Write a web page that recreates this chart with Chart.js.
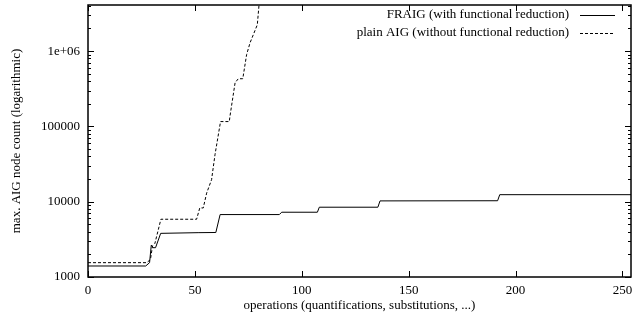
<!DOCTYPE html>
<html>
<head>
<meta charset="utf-8">
<script src="https://cdn.jsdelivr.net/npm/chart.js@4"></script>
<style>
  html, body { margin: 0; padding: 0; background: #fff; }
  #chart { display: block; }
</style>
</head>
<body>
<canvas id="chart" width="632" height="325"></canvas>
<script>
const seriesLabels = ["FRAIG (with functional reduction)", "plain AIG (without functional reduction)"];

const fraigX = [0, 27, 28.8, 29.6, 30.4, 31.6, 34, 51.5, 59.8, 61.8, 89.5, 90.6, 107.3, 108.2, 135.6, 136.6, 191.6, 192.6, 254];
const fraigY = [1400, 1400, 1550, 2650, 2450, 2450, 3800, 3880, 3900, 6750, 6750, 7250, 7250, 8450, 8450, 10250, 10300, 12400, 12400];

const plainX = [0, 27.4, 29.2, 30.2, 31.3, 34.1, 50.8, 52.3, 53.9, 55.5, 57.8, 59.4, 62, 66.1, 66.4, 68.8, 70.3, 72.4, 74.2, 75.8, 79.2, 80.5];
const plainY = [1550, 1550, 1700, 2600, 2800, 5850, 5850, 8300, 8250, 13000, 19600, 42000, 116000, 116000, 136000, 380000, 430000, 430000, 900000, 1290000, 2240000, 6000000];

const xTicks = [0, 50, 100, 150, 200, 250];
const yTicks = [1000, 10000, 100000, 1000000];
const yTickLabels = ["1000", "10000", "100000", "1e+06"];

const FONT = "Liberation Serif";

const points = (xs, ys) => xs.map((x, i) => ({ x, y: ys[i] }));
const isMajor = v => yTicks.some(t => Math.abs(t - v) / t < 1e-6);

// gnuplot look: boxed frame, ticks pointing inward on every side, key at top right
const framePlugin = {
  id: "frame",
  afterDraw(chart) {
    const { ctx, chartArea: a, scales } = chart;
    const x = scales.x, y = scales.y;
    ctx.save();
    ctx.strokeStyle = "#000";
    ctx.lineWidth = 1;
    ctx.beginPath();
    x.ticks.forEach(t => {
      const px = Math.round(x.getPixelForValue(t.value)) + 0.5;
      ctx.moveTo(px, a.bottom); ctx.lineTo(px, a.bottom - 6);
      ctx.moveTo(px, a.top); ctx.lineTo(px, a.top + 6);
    });
    y.ticks.forEach(t => {
      const len = isMajor(t.value) ? 6 : 3;
      const py = Math.round(y.getPixelForValue(t.value)) + 0.5;
      ctx.moveTo(a.left, py); ctx.lineTo(a.left + len, py);
      ctx.moveTo(a.right, py); ctx.lineTo(a.right - len, py);
    });
    ctx.stroke();

    ctx.lineWidth = 1.5;
    ctx.strokeRect(a.left, a.top, a.right - a.left, a.bottom - a.top);

    // key
    ctx.font = "13px " + FONT;
    ctx.fillStyle = "#000";
    ctx.textAlign = "right";
    ctx.textBaseline = "middle";
    chart.data.datasets.forEach((ds, i) => {
      const ly = a.top + 10 + i * 17.5;
      ctx.fillText(ds.label, a.right - 62, ly);
      ctx.lineWidth = 1;
      ctx.setLineDash(ds.borderDash || []);
      ctx.beginPath();
      ctx.moveTo(a.right - 51, Math.round(ly) + 0.5);
      ctx.lineTo(a.right - 16, Math.round(ly) + 0.5);
      ctx.stroke();
    });
    ctx.restore();
  }
};

new Chart(document.getElementById("chart"), {
  type: "line",
  data: {
    datasets: [
      {
        label: seriesLabels[0],
        data: points(fraigX, fraigY),
        borderColor: "#000",
        borderWidth: 1,
        pointRadius: 0,
        tension: 0,
      },
      {
        label: seriesLabels[1],
        data: points(plainX, plainY),
        borderColor: "#000",
        borderWidth: 1,
        borderDash: [3, 2],
        pointRadius: 0,
        tension: 0,
      },
    ],
  },
  options: {
    responsive: false,
    animation: false,
    devicePixelRatio: 1,
    layout: { padding: { top: 5, right: 1, left: 0, bottom: 0 } },
    plugins: {
      legend: { display: false },
      tooltip: { enabled: false },
    },
    scales: {
      x: {
        type: "linear",
        min: 0,
        max: 254,
        grid: { display: false, drawTicks: false },
        border: { display: false },
        afterBuildTicks: s => { s.ticks = xTicks.map(v => ({ value: v })); },
        afterFit: s => { s.height = 48; s.paddingLeft = 0; s.paddingRight = 0; },
        ticks: { color: "#000", font: { family: FONT, size: 13 }, padding: 6, maxRotation: 0, autoSkip: false },
        title: {
          display: true,
          text: "operations (quantifications, substitutions, ...)",
          color: "#000",
          font: { family: FONT, size: 13 },
          padding: { top: 0, bottom: 12 },
        },
      },
      y: {
        type: "logarithmic",
        min: 1000,
        max: 4100000,
        grid: { display: false, drawTicks: false },
        border: { display: false },
        afterBuildTicks: s => {
          s.ticks = s.ticks.filter(t => {
            const m = t.value / Math.pow(10, Math.floor(Math.log10(t.value) + 1e-9));
            return Math.abs(m - Math.round(m)) < 1e-6;
          });
        },
        afterFit: s => { s.width = 88; s.paddingTop = 0; s.paddingBottom = 0; },
        ticks: {
          color: "#000",
          font: { family: FONT, size: 13 },
          padding: 8,
          autoSkip: false,
          callback: v => {
            const i = yTicks.findIndex(t => Math.abs(t - v) / t < 1e-6);
            return i >= 0 ? yTickLabels[i] : "";
          },
        },
        title: {
          display: true,
          text: "max. AIG node count (logarithmic)",
          color: "#000",
          font: { family: FONT, size: 13 },
          padding: { top: 9, bottom: 0 },
        },
      },
    },
  },
  plugins: [framePlugin],
});
</script>
</body>
</html>
